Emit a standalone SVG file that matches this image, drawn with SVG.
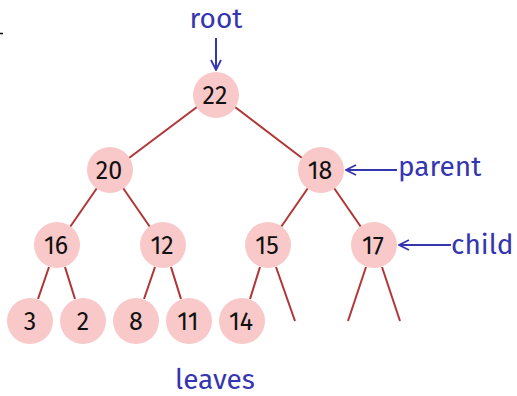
<svg xmlns="http://www.w3.org/2000/svg" width="517" height="396" viewBox="0 0 517 396">
<style>
.n circle{fill:#f9c8c8}
.n text{font-family:"Fira Sans","Open Sans","Noto Sans",sans-serif;font-size:25px;fill:#111;text-anchor:middle}
.e line{stroke:#b03535;stroke-width:2}
.lbl{font-family:"Fira Sans","Open Sans","Noto Sans",sans-serif;font-size:28px;fill:#3535b0}
.ar{stroke:#3535b0;stroke-width:2;fill:none}
</style>
<defs>
<marker id="ah" viewBox="0 0 12 12" refX="11" refY="6" markerWidth="12" markerHeight="12" markerUnits="userSpaceOnUse" orient="auto">
<path d="M1,1 L11,6 L1,11" fill="none" stroke="#3535b0" stroke-width="1.8"/>
</marker>
</defs>
<line x1="0" y1="33.5" x2="3" y2="33.5" stroke="#000" stroke-width="1.5"/>
<g id="connectors" class="e">
<line x1="197" y1="107" x2="129" y2="158"/>
<line x1="235" y1="107" x2="302" y2="158"/>
<line x1="97" y1="188" x2="70" y2="227"/>
<line x1="123" y1="188" x2="150" y2="227"/>
<line x1="308" y1="188" x2="281" y2="227"/>
<line x1="334" y1="188" x2="361" y2="227"/>
<line x1="49" y1="267" x2="38" y2="299"/>
<line x1="65" y1="267" x2="75" y2="299"/>
<line x1="155" y1="267" x2="144" y2="299"/>
<line x1="171" y1="267" x2="181" y2="299"/>
<line x1="260" y1="267" x2="250" y2="299"/>
<line x1="276" y1="267" x2="295" y2="321"/>
<line x1="366" y1="267" x2="348" y2="321"/>
<line x1="382" y1="267" x2="400" y2="321"/>
</g>
<g id="n22" class="n"><circle cx="216" cy="95" r="23"/><text x="215" y="103.5">22</text></g>
<g id="n20" class="n"><circle cx="110" cy="170" r="23"/><text x="109" y="178.5">20</text></g>
<g id="n18" class="n"><circle cx="321" cy="170" r="23"/><text x="320" y="178.5">18</text></g>
<g id="n16" class="n"><circle cx="57" cy="245" r="23"/><text x="56" y="253.5">16</text></g>
<g id="n12" class="n"><circle cx="163" cy="245" r="23"/><text x="162" y="253.5">12</text></g>
<g id="n15" class="n"><circle cx="268" cy="245" r="23"/><text x="267" y="253.5">15</text></g>
<g id="n17" class="n"><circle cx="374" cy="245" r="23"/><text x="373" y="253.5">17</text></g>
<g id="n3" class="n"><circle cx="30" cy="321" r="23"/><text x="30" y="329.5">3</text></g>
<g id="n2" class="n"><circle cx="83" cy="321" r="23"/><text x="83" y="329.5">2</text></g>
<g id="n8" class="n"><circle cx="136" cy="321" r="23"/><text x="136" y="329.5">8</text></g>
<g id="n11" class="n"><circle cx="189" cy="321" r="23"/><text x="188" y="329.5">11</text></g>
<g id="n14" class="n"><circle cx="242" cy="321" r="23"/><text x="241" y="329.5">14</text></g>
<g id="labels">
<text class="lbl" x="216" y="28" text-anchor="middle">root</text>
<line class="ar" x1="216" y1="38" x2="216" y2="70" marker-end="url(#ah)"/>
<text class="lbl" x="398" y="176">parent</text>
<line class="ar" x1="397" y1="170" x2="346" y2="170" marker-end="url(#ah)"/>
<text class="lbl" x="451" y="254">child</text>
<line class="ar" x1="451" y1="245" x2="399" y2="245" marker-end="url(#ah)"/>
<text class="lbl" x="215" y="389" text-anchor="middle">leaves</text>
</g>
</svg>
